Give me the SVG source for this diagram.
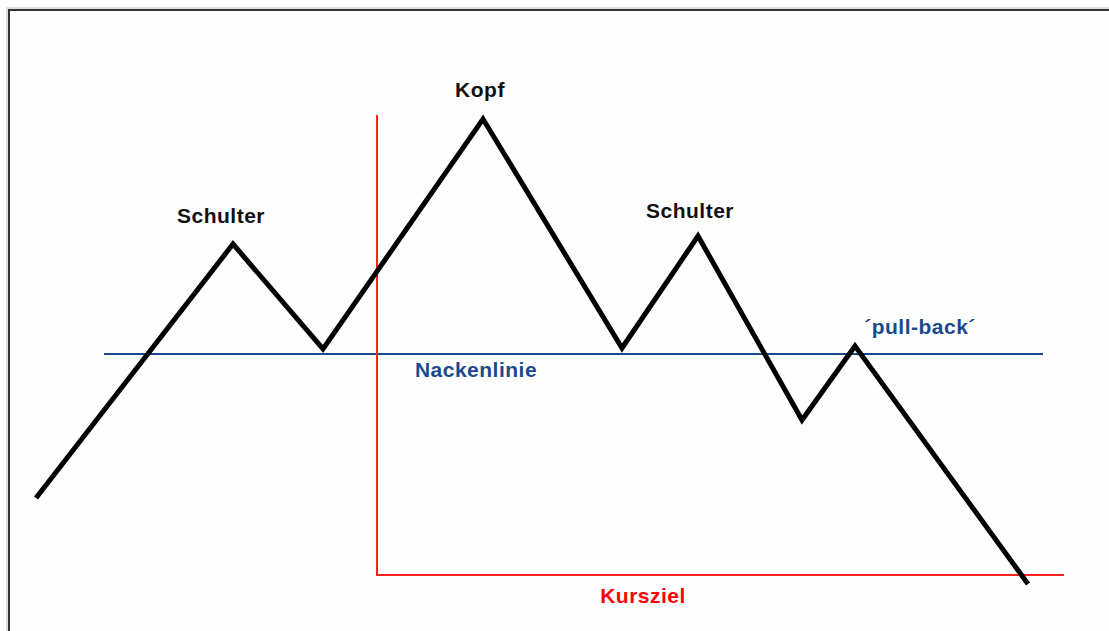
<svg xmlns="http://www.w3.org/2000/svg" width="1109" height="631" viewBox="0 0 1109 631">
<style>
.lbl{font-family:"Liberation Sans",Arial,sans-serif;font-weight:bold;font-size:21px;letter-spacing:0.5px;text-anchor:middle}
.blk{fill:#111}
.blu{fill:#1a4a8c}
.red{fill:#ff0000}
</style>
<rect x="0" y="0" width="1109" height="631" fill="#fff"/>
<rect x="7" y="8" width="1110" height="630" fill="none" stroke="#bbb" stroke-width="1"/>
<rect x="9" y="10" width="1110" height="630" fill="#fefefe" stroke="#333" stroke-width="2"/>
<g id="connectors">
<line id="nackenlinie-line" x1="104" y1="354" x2="1043" y2="354" stroke="#1a4a8c" stroke-width="2"/>
<polyline id="kursziel-line" points="377,115 377,575 1064,575" fill="none" stroke="#ff2020" stroke-width="2"/>
<polyline id="chart" points="36,498 233,244 323,349 483,119 622,348 698,236 802,420 855,346 1028,584" fill="none" stroke="#000" stroke-width="5" stroke-linejoin="miter" stroke-miterlimit="10"/>
</g>
<g id="schulter-left"><text class="lbl blk" x="221" y="223">Schulter</text></g>
<g id="kopf"><text class="lbl blk" x="480" y="97">Kopf</text></g>
<g id="schulter-right"><text class="lbl blk" x="690" y="218">Schulter</text></g>
<g id="nackenlinie"><text class="lbl blu" x="476" y="377">Nackenlinie</text></g>
<g id="pull-back"><text class="lbl blu" x="920" y="334">´pull-back´</text></g>
<g id="kursziel"><text class="lbl red" x="643" y="603">Kursziel</text></g>
</svg>
